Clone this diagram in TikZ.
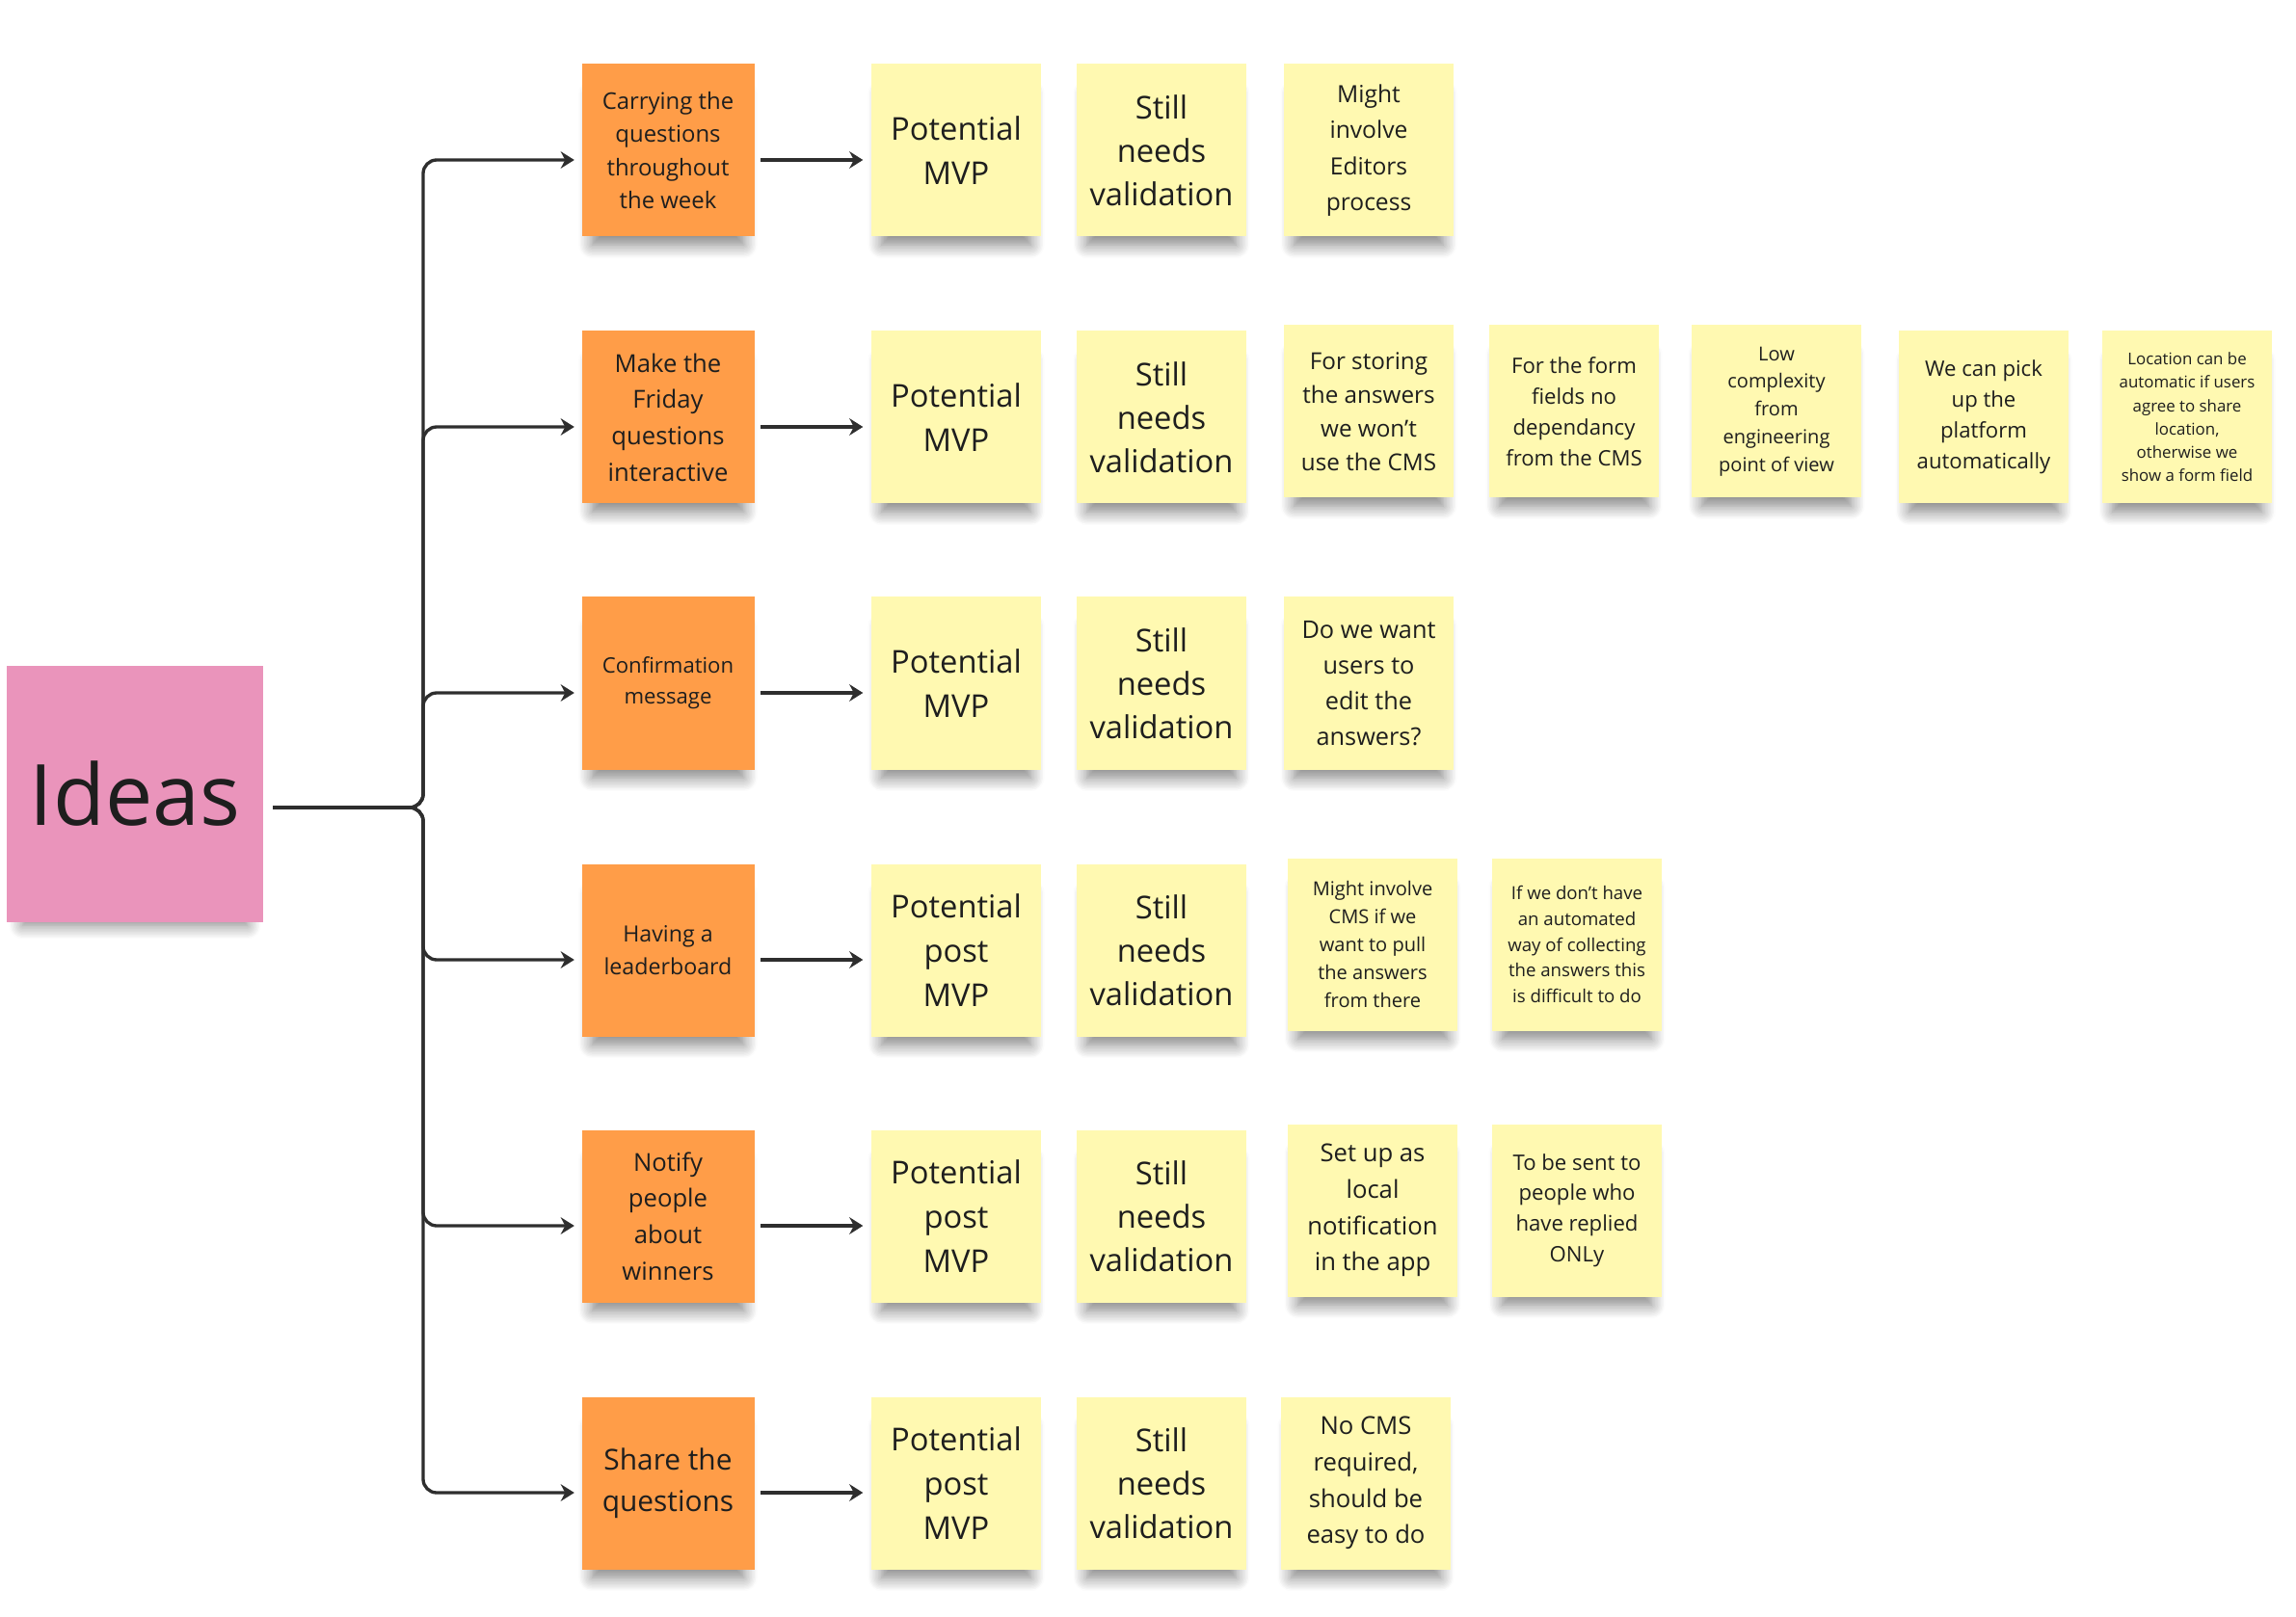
\documentclass[tikz,border=0pt]{standalone}
\usepackage{fontspec}
\setmainfont{Open Sans}
\usepackage{tikz}
\usetikzlibrary{arrows.meta, positioning, shadows, shadows.blur}
\definecolor{pinknote}{HTML}{EA94BB}
\definecolor{orangenote}{HTML}{FF9D48}
\definecolor{yellownote}{HTML}{FFF9B1}
\definecolor{inkdark}{HTML}{1E1E1E}
\definecolor{linkgray}{HTML}{2E2E2E}

\tikzset{
  sticky/.style={rectangle, inner sep=0pt, align=center, text=inkdark,
    blur shadow={shadow xshift=0pt, shadow yshift=-0.22cm, shadow scale=0.88,
      shadow blur radius=0.16cm, shadow blur steps=10, shadow opacity=50}},
  ideanote/.style={sticky, fill=pinknote, minimum width=2.65cm, minimum height=2.66cm},
  topicnote/.style={sticky, fill=orangenote, minimum width=1.79cm, minimum height=1.79cm},
  remarknote/.style={sticky, fill=yellownote, minimum width=1.76cm, minimum height=1.79cm},
  fs/.style 2 args={font=\fontsize{#1}{#2}\selectfont},
  link/.style={line width=0.95pt, linkgray, -{Stealth[length=4pt,width=5pt]}},
  branch/.style={link, rounded corners=4pt, shorten >=0.07cm},
}

\begin{document}
\begin{tikzpicture}
  \useasboundingbox (0,0) rectangle (23.82,-16.78);
  % Root
  \node[ideanote, fs={25}{30}] (ideas) at (1.40,-8.24) {Ideas};
  \coordinate (hub) at (4.39,-8.38);
  % Topics
  \node[topicnote, fs={6.8}{9.8}] (carry) at (6.93,-1.56) {Carrying the\\questions\\throughout\\the week};
  \node[topicnote, fs={7.3}{10.7}] (friday) at (6.93,-4.33) {Make the\\Friday\\questions\\interactive};
  \node[topicnote, fs={6.3}{9.1}] (confirm) at (6.93,-7.09) {Confirmation\\message};
  \node[topicnote, fs={6.6}{9.5}] (board) at (6.93,-9.86) {Having a\\leaderboard};
  \node[topicnote, fs={7.3}{10.7}] (notify) at (6.93,-12.62) {Notify\\people\\about\\winners};
  \node[topicnote, fs={8.5}{12.1}] (share) at (6.93,-15.39) {Share the\\questions};
  % Row 1
  \node[remarknote, fs={9.3}{13.3}] (carrymvp) at (9.92,-1.56) {Potential\\MVP};
  \node[remarknote, fs={9.3}{12.8}] (carryval) at (12.05,-1.56) {Still\\needs\\validation};
  \node[remarknote, fs={7}{10.6}] (carryeditors) at (14.20,-1.56) {Might\\involve\\Editors\\process};
  % Row 2
  \node[remarknote, fs={9.3}{13.3}] (fridaymvp) at (9.92,-4.33) {Potential\\MVP};
  \node[remarknote, fs={9.3}{12.8}] (fridayval) at (12.05,-4.33) {Still\\needs\\validation};
  \node[remarknote, fs={6.9}{10}] (fridaystore) at (14.20,-4.27) {For storing\\the answers\\we won't\\use the CMS};
  \node[remarknote, fs={6.3}{9.1}] (fridayform) at (16.33,-4.27) {For the form\\fields no\\dependancy\\from the CMS};
  \node[remarknote, fs={5.7}{8.2}] (fridaylow) at (18.43,-4.27) {Low\\complexity\\from\\engineering\\point of view};
  \node[remarknote, fs={6.3}{9.1}] (fridaypick) at (20.58,-4.33) {We can pick\\up the\\platform\\automatically};
  \node[remarknote, fs={4.8}{6.9}] (fridayloc) at (22.69,-4.33) {Location can be\\automatic if users\\agree to share\\location,\\otherwise we\\show a form field};
  % Row 3
  \node[remarknote, fs={9.3}{13.3}] (confirmmvp) at (9.92,-7.09) {Potential\\MVP};
  \node[remarknote, fs={9.3}{12.8}] (confirmval) at (12.05,-7.09) {Still\\needs\\validation};
  \node[remarknote, fs={7.2}{10.5}] (confirmedit) at (14.20,-7.09) {Do we want\\users to\\edit the\\answers?};
  % Row 4
  \node[remarknote, fs={9.3}{13.2}] (boardmvp) at (9.92,-9.86) {Potential\\post\\MVP};
  \node[remarknote, fs={9.3}{12.8}] (boardval) at (12.05,-9.86) {Still\\needs\\validation};
  \node[remarknote, fs={5.7}{8.2}] (boardcms) at (14.24,-9.80) {Might involve\\CMS if we\\want to pull\\the answers\\from there};
  \node[remarknote, fs={5.3}{7.6}] (boardauto) at (16.36,-9.80) {If we don't have\\an automated\\way of collecting\\the answers this\\is difficult to do};
  % Row 5
  \node[remarknote, fs={9.3}{13.2}] (notifymvp) at (9.92,-12.62) {Potential\\post\\MVP};
  \node[remarknote, fs={9.3}{12.8}] (notifyval) at (12.05,-12.62) {Still\\needs\\validation};
  \node[remarknote, fs={7.3}{10.7}] (notifylocal) at (14.24,-12.56) {Set up as\\local\\notification\\in the app};
  \node[remarknote, fs={6.3}{9}] (notifysent) at (16.36,-12.56) {To be sent to\\people who\\have replied\\ONLy};
  % Row 6
  \node[remarknote, fs={9.3}{13.2}] (sharemvp) at (9.92,-15.39) {Potential\\post\\MVP};
  \node[remarknote, fs={9.3}{12.8}] (shareval) at (12.05,-15.39) {Still\\needs\\validation};
  \node[remarknote, fs={7.3}{10.7}] (shareeasy) at (14.17,-15.39) {No CMS\\required,\\should be\\easy to do};
  % Tree from root to topics
  \foreach \t in {carry, friday, confirm, board, notify, share}
    \draw[branch] ([xshift=0.1cm]ideas.east |- hub) -- (hub) |- ([yshift=-0.1cm]\t.west);
  % Topic to first remark
  \draw[link, shorten <=0.06cm, shorten >=0.08cm] ([yshift=-0.1cm]carry.east) -- ([yshift=-0.1cm]carrymvp.west);
  \draw[link, shorten <=0.06cm, shorten >=0.08cm] ([yshift=-0.1cm]friday.east) -- ([yshift=-0.1cm]fridaymvp.west);
  \draw[link, shorten <=0.06cm, shorten >=0.08cm] ([yshift=-0.1cm]confirm.east) -- ([yshift=-0.1cm]confirmmvp.west);
  \draw[link, shorten <=0.06cm, shorten >=0.08cm] ([yshift=-0.1cm]board.east) -- ([yshift=-0.1cm]boardmvp.west);
  \draw[link, shorten <=0.06cm, shorten >=0.08cm] ([yshift=-0.1cm]notify.east) -- ([yshift=-0.1cm]notifymvp.west);
  \draw[link, shorten <=0.06cm, shorten >=0.08cm] ([yshift=-0.1cm]share.east) -- ([yshift=-0.1cm]sharemvp.west);
\end{tikzpicture}
\end{document}
